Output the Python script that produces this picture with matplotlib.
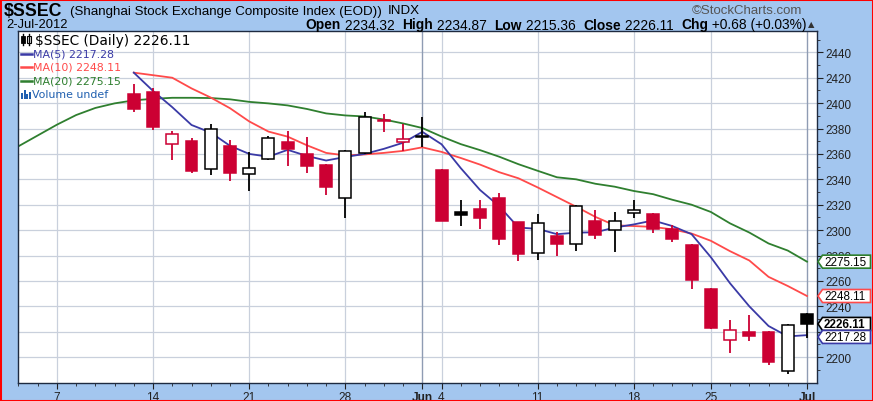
import matplotlib
matplotlib.use("Agg")
import matplotlib.pyplot as plt
from matplotlib.patches import Rectangle, Polygon
from matplotlib.lines import Line2D
import numpy as np

# ---------------- data ----------------
dates = ["05-03", "05-04",
         "05-07", "05-08", "05-09", "05-10", "05-11",
         "05-14", "05-15", "05-16", "05-17", "05-18",
         "05-21", "05-22", "05-23", "05-24", "05-25",
         "05-28", "05-29", "05-30", "05-31", "06-01",
         "06-04", "06-05", "06-06", "06-07", "06-08",
         "06-11", "06-12", "06-13", "06-14", "06-15",
         "06-18", "06-19", "06-20", "06-21",
         "06-25", "06-26", "06-27", "06-28", "06-29",
         "07-02"]

candle_dates = dates[6:]          # candles shown from May 11
prev_close_first = 2408.6         # close of May 10 (for colouring)

opens = [2407.2, 2409.1, 2367.7, 2369.9, 2348.0, 2365.9,
         2344.0, 2356.0, 2369.3, 2360.3, 2351.2,
         2325.3, 2360.8, 2386.3, 2369.6, 2373.1,
         2347.5, 2314.1, 2316.5, 2325.3, 2306.1,
         2281.6, 2295.5, 2288.8, 2307.5, 2300.0,
         2313.3, 2312.8, 2300.6, 2288.5,
         2253.9, 2213.7, 2219.9, 2219.9, 2188.9,
         2234.32]
highs = [2415.2, 2412.0, 2378.1, 2372.5, 2383.5, 2371.2,
         2361.3, 2374.1, 2378.1, 2373.3, 2352.3,
         2362.7, 2393.3, 2391.5, 2383.2, 2388.8,
         2348.3, 2323.5, 2323.5, 2329.6, 2306.5,
         2312.3, 2298.9, 2320.0, 2315.5, 2314.0,
         2323.9, 2313.3, 2304.0, 2289.0,
         2254.5, 2229.2, 2233.5, 2220.6, 2226.3,
         2234.87]
lows = [2393.3, 2378.7, 2355.5, 2345.3, 2343.5, 2338.7,
        2330.7, 2354.9, 2350.7, 2344.8, 2328.0,
        2309.3, 2360.0, 2377.6, 2362.1, 2365.6,
        2306.8, 2303.5, 2300.8, 2288.0, 2275.5,
        2276.8, 2279.5, 2283.5, 2292.8, 2283.0,
        2309.7, 2297.5, 2290.3, 2253.4,
        2222.5, 2203.1, 2212.4, 2194.1, 2186.3,
        2215.36]
closes = [2395.2, 2381.3, 2375.5, 2346.4, 2379.5, 2345.3,
          2348.8, 2372.8, 2363.5, 2350.7, 2333.9,
          2362.1, 2389.3, 2385.6, 2372.0, 2374.4,
          2307.5, 2312.0, 2309.9, 2292.8, 2280.8,
          2305.9, 2288.8, 2318.9, 2296.0, 2306.9,
          2315.6, 2300.6, 2292.9, 2260.6,
          2223.2, 2221.4, 2216.5, 2195.8, 2225.43,
          2226.11]

ma5 = [2424.0, 2409.6, 2396.8, 2382.8, 2376.8, 2366.4,
       2360.0, 2357.8, 2363.2, 2358.4, 2354.8,
       2357.6, 2360.0, 2364.0, 2368.8, 2377.4,
       2367.6, 2348.8, 2331.6, 2318.8, 2302.0,
       2301.0, 2296.8, 2298.0, 2298.3, 2302.0,
       2304.5, 2307.6, 2303.2, 2296.8,
       2278.7, 2258.1, 2240.0, 2224.5, 2216.3,
       2217.28]
ma10 = [2424.0, 2422.0, 2420.0, 2411.6, 2404.4, 2396.0,
        2385.6, 2377.6, 2373.6, 2366.8, 2360.8,
        2358.8, 2359.6, 2360.8, 2362.4, 2365.2,
        2361.6, 2356.8, 2351.6, 2345.6, 2340.8,
        2333.6, 2326.0, 2318.4, 2310.4, 2303.8,
        2303.2, 2302.5, 2300.6, 2297.3,
        2291.6, 2283.4, 2276.1, 2263.2, 2256.0,
        2248.11]
ma20 = [2366.0, 2374.5,
        2383.0, 2390.6, 2396.2, 2399.8, 2402.2,
        2403.4, 2404.2, 2404.2, 2404.0, 2403.0,
        2401.0, 2399.8, 2398.2, 2395.4, 2391.9,
        2390.3, 2389.5, 2387.1, 2384.0, 2380.4,
        2373.7, 2367.7, 2363.0, 2357.8, 2351.9,
        2346.7, 2341.6, 2340.0, 2336.5, 2334.2,
        2330.8, 2328.3, 2323.9, 2320.0,
        2314.3, 2305.3, 2298.1, 2289.5, 2283.9,
        2275.15]

week_tick_dates = ["05-07", "05-14", "05-21", "05-28", "06-04",
                   "06-11", "06-18", "06-25"]
week_tick_labels = ["7", "14", "21", "28", "4", "11", "18", "25"]
month_tick_dates = ["06-01", "07-02"]
month_tick_labels = ["Jun", "Jul"]
y_ticks = [2200, 2220, 2240, 2260, 2280, 2300, 2320, 2340, 2360,
           2380, 2400, 2420, 2440]
y_tick_labels = ["2200", "", "2240", "2260", "2280", "2300", "2320", "2340",
                 "2360", "2380", "2400", "2420", "2440"]

# ---------------- layout ----------------
W, H = 873, 402
BG = "#a3c6ef"
RED = "#cc0033"
C_MA5 = "#3a3aa6"
C_MA10 = "#ff4a4a"
C_MA20 = "#2f7f2f"
HF = ["Liberation Sans", "DejaVu Sans"]

fig = plt.figure(figsize=(W / 100, H / 100), dpi=100)
fig.patch.set_facecolor(BG)

L, R, T, B = 18.4, 816.8, 32.0, 384.0
ax = fig.add_axes([L / W, 1 - B / H, (R - L) / W, (B - T) / H])
ax.set_facecolor("white")

pos_of = {d: i - 2 for i, d in enumerate(dates)}
x_all = np.array([pos_of[d] for d in dates], dtype=float)
x_c = np.array([pos_of[d] for d in candle_dates], dtype=float)

YMIN, YMAX = 2179.6, 2456.8
ax.set_xlim(-1.39, 39.51)
ax.set_ylim(YMIN, YMAX)

# grid
for v in y_ticks:
    ax.axhline(v, color="#c9d0dc", lw=0.9, zorder=0.5)
for d in week_tick_dates:
    ax.axvline(pos_of[d], color="#c9d0dc", lw=0.9, zorder=0.5)
for d in month_tick_dates:
    ax.axvline(pos_of[d], color="#8f9cb3", lw=1.0, zorder=0.6)

# moving averages
ax.plot(x_all, ma20, color=C_MA20, lw=1.3, zorder=2)
ax.plot(x_c, ma10, color=C_MA10, lw=1.3, zorder=2)
ax.plot(x_c, ma5, color=C_MA5, lw=1.3, zorder=2.1)

# candles
w = 0.62
for k in range(len(x_c)):
    o, h, l, c = opens[k], highs[k], lows[k], closes[k]
    pc = prev_close_first if k == 0 else closes[k - 1]
    col = RED if c < pc else "black"
    filled = c < o
    ax.plot([x_c[k], x_c[k]], [l, h], color=col, lw=1.3, zorder=3,
            solid_capstyle="butt")
    bottom = min(o, c)
    height = max(abs(c - o), 0.9)
    ax.add_patch(Rectangle((x_c[k] - w / 2, bottom), w, height,
                           facecolor=col if filled else "white",
                           edgecolor=col, lw=1.1, zorder=4))

# axes styling
for s in ax.spines.values():
    s.set_color("#1e2a40")
    s.set_linewidth(1.0)
ax.yaxis.tick_right()
ax.set_yticks(y_ticks)
ax.set_yticklabels(y_tick_labels)
ax.set_yticks(np.arange(2190, 2451, 10), minor=True)
ax.tick_params(axis="y", which="major", direction="out", length=4, pad=2,
               labelsize=8.4, colors="#222222")
ax.tick_params(axis="y", which="minor", direction="out", length=2,
               colors="#222222")
for t in ax.get_yticklabels():
    t.set_family(HF)

xt = [pos_of[d] for d in week_tick_dates] + [pos_of[d] for d in month_tick_dates]
xl = week_tick_labels + month_tick_labels
ax.set_xticks(xt)
ax.set_xticklabels(xl)
ax.set_xticks(x_all, minor=True)
ax.tick_params(axis="x", which="major", direction="out", length=4, pad=1.5,
               labelsize=8.6, colors="#222222")
ax.tick_params(axis="x", which="minor", direction="out", length=2.5,
               colors="#222222")
for t in ax.get_xticklabels():
    t.set_family(HF)
    if t.get_text() in month_tick_labels:
        t.set_fontweight("bold")


def fx(x):
    return x / W


def fy(y):
    return 1 - y / H


def ypix(v):
    return T + (YMAX - v) / (YMAX - YMIN) * (B - T)


# ---------------- legend inside plot ----------------
LF = ["DejaVu Sans"]
# candle icon
fig.add_artist(Line2D([fx(22.5), fx(22.5)], [fy(35), fy(46)], color="black", lw=1))
fig.add_artist(Rectangle((fx(20.5), fy(44)), fx(4), 7 / H, facecolor="black",
                         edgecolor="black", lw=0.6))
fig.add_artist(Line2D([fx(28.5), fx(28.5)], [fy(35), fy(46)], color="black", lw=1))
fig.add_artist(Rectangle((fx(26.5), fy(44)), fx(4), 7 / H, facecolor="white",
                         edgecolor="black", lw=0.8))
fig.text(fx(35), fy(40.5), "$SSEC (Daily) 2226.11", fontsize=9.9, family=LF,
         color="black", va="center")
legend_rows = [("MA(5) 2217.28", C_MA5, 54.5),
               ("MA(10) 2248.11", C_MA10, 68),
               ("MA(20) 2275.15", C_MA20, 81.7)]
for txt, col, yy in legend_rows:
    fig.add_artist(Line2D([fx(21), fx(32)], [fy(yy), fy(yy)], color=col, lw=1.8))
    fig.text(fx(33), fy(yy), txt, fontsize=7.9, family=LF, color=col, va="center")
VC = "#2060b0"
for i, hh in enumerate([6, 9, 5, 7]):
    fig.add_artist(Rectangle((fx(21 + i * 2.6), fy(100)), fx(2), hh / H,
                             facecolor=VC, edgecolor="none"))
fig.text(fx(32), fy(95), "Volume undef", fontsize=7.9, family=LF, color=VC,
         va="center")

# ---------------- header ----------------
renderer = fig.canvas.get_renderer()
fig.text(fx(4), fy(11), "$SSEC", fontsize=12.8, fontweight="bold", family=HF,
         va="center", color="black")
name_t = fig.text(fx(70), fy(11.5), "(Shanghai Stock Exchange Composite Index (EOD))",
                  fontsize=9.6, family=HF, va="center", color="black")
name_end = 70 + name_t.get_window_extent(renderer).width
fig.text(fx(name_end + 6), fy(11.5), "INDX", fontsize=9.6, family=HF,
         va="center", color="black")
fig.text(fx(802), fy(11.5), "\u00a9StockCharts.com", fontsize=9.5, family=HF,
         va="center", ha="right", color="#555555")
fig.text(fx(6), fy(25.5), "2-Jul-2012", fontsize=9.3, family=HF, va="center",
         color="black")

pieces = [("Open", True), (" 2234.32  ", False), ("High", True),
          (" 2234.87  ", False), ("Low", True), (" 2215.36  ", False),
          ("Close", True), (" 2226.11  ", False), ("Chg", True),
          (" +0.68 (+0.03%)", False)]
texts = []
for s, bold in pieces:
    t = fig.text(0, fy(25.5), s, fontsize=9.9, family=HF, va="center",
                 fontweight="bold" if bold else "normal", color="black")
    texts.append(t)
widths = [t.get_window_extent(renderer).width for t in texts]
x = 807 - sum(widths)
for t, wd in zip(texts, widths):
    t.set_x(fx(x))
    x += wd
fig.text(fx(x + 1), fy(25), "\u25b2", fontsize=6, family=["DejaVu Sans"],
         va="center", color="#333333")

# ---------------- price tags ----------------
def tag(yc, txt, col, bold=False):
    h = 13.0
    x0, x1, x2 = 818.0, 822.5, 870.5
    pts = [(x0, yc), (x1, yc - h / 2), (x2, yc - h / 2), (x2, yc + h / 2),
           (x1, yc + h / 2)]
    fig.add_artist(Polygon([(fx(a), fy(b)) for a, b in pts], closed=True,
                           facecolor="white", edgecolor=col, lw=1.2,
                           zorder=5))
    fig.text(fx(824), fy(yc + 0.3), txt, fontsize=8.4, family=HF, va="center",
             color="black", fontweight="bold" if bold else "normal", zorder=6)


tag(ypix(ma20[-1]), "2275.15", C_MA20)
tag(ypix(ma10[-1]), "2248.11", C_MA10)
tag(ypix(closes[-1]), "2226.11", "black", bold=True)
tag(ypix(closes[-1]) + 13, "2217.28", C_MA5)

# red outer border
fig.add_artist(Rectangle((0, 0), 1, 1, transform=fig.transFigure,
                         facecolor="none", edgecolor="#ff0000", lw=2.2,
                         zorder=10))

fig.savefig("out.png", dpi=100, facecolor=BG)
